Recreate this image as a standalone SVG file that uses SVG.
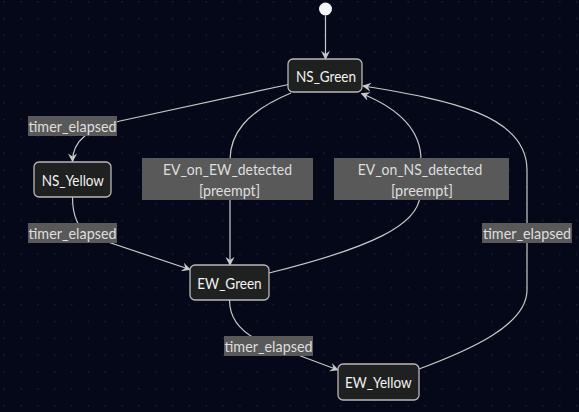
<svg xmlns="http://www.w3.org/2000/svg" width="579" height="412" viewBox="0 0 579 412">
<style>
.node rect{fill:#1f2020;stroke:#b8b8b8;stroke-width:1.3}
.node text{fill:#f2f2f2;font-family:Lato,"Liberation Sans",Arial,sans-serif;font-size:15.5px;text-anchor:middle;dominant-baseline:central}
.edges path{fill:none;stroke:#c8c8c8;stroke-width:1.2}
.lbl rect{fill:#595959}
.lbl text{fill:#dedede;font-family:Lato,"Liberation Sans",Arial,sans-serif;font-size:15px;text-anchor:middle;dominant-baseline:central}
</style>
<defs>
<pattern id="dots" patternUnits="userSpaceOnUse" x="0" y="0" width="16.83" height="16.83">
<circle cx="4.3" cy="1.7" r="0.8" fill="#222838"/>
</pattern>
<marker id="arr" viewBox="0 0 10 10" refX="9" refY="5" markerWidth="9" markerHeight="9" markerUnits="userSpaceOnUse" orient="auto">
<path d="M0,0 L10,5 L0,10 L3.5,5 z" fill="#c8c8c8"/>
</marker>
</defs>
<rect width="579" height="412" fill="#050818"/>
<rect width="579" height="412" fill="url(#dots)"/>

<g class="edges">
<path d="M325.5,15.5 L325.5,59" marker-end="url(#arr)"/>
<path d="M288.5,84.5 L120,121 C90,128 72.5,140 72.5,161.5" marker-end="url(#arr)"/>
<path d="M72.5,197 C72.5,212 76,228 90,236 L190,269.5" marker-end="url(#arr)"/>
<path d="M291,93 C245,112 230,135 230,160 L230,265" marker-end="url(#arr)"/>
<path d="M269,273 C370,248 419,225 420,195 L421,160 C421,125 390,105 361.5,93.5" marker-end="url(#arr)"/>
<path d="M229.5,300 C229.5,318 240,331 258,340 L338,370" marker-end="url(#arr)"/>
<path d="M419,369 C470,350 527,325 527,290 L527,170 C527,115 450,100 363,86" marker-end="url(#arr)"/>
</g>

<circle id="start" cx="325.5" cy="9" r="6.5" fill="#f4f4f4"/>

<g class="lbl">
<g id="lbl-ns-yellow"><rect x="28" y="116" width="89" height="20"/><text x="72.5" y="126" textLength="88" lengthAdjust="spacingAndGlyphs">timer_elapsed</text></g>
<g id="lbl-yellow-ew"><rect x="28" y="223" width="89" height="20"/><text x="72.5" y="233" textLength="88" lengthAdjust="spacingAndGlyphs">timer_elapsed</text></g>
<g id="lbl-ev-ew"><rect x="142" y="158" width="171" height="42"/><text x="227.5" y="169" textLength="129" lengthAdjust="spacingAndGlyphs">EV_on_EW_detected</text><text x="229.5" y="190" textLength="61" lengthAdjust="spacingAndGlyphs">[preempt]</text></g>
<g id="lbl-ev-ns"><rect x="334" y="158" width="175" height="42"/><text x="420" y="169" textLength="124.5" lengthAdjust="spacingAndGlyphs">EV_on_NS_detected</text><text x="422" y="190" textLength="62" lengthAdjust="spacingAndGlyphs">[preempt]</text></g>
<g id="lbl-ew-yellow"><rect x="224" y="336" width="89" height="20"/><text x="268.5" y="346" textLength="88" lengthAdjust="spacingAndGlyphs">timer_elapsed</text></g>
<g id="lbl-ewy-ns"><rect x="482" y="223" width="90" height="20"/><text x="527" y="233" textLength="88" lengthAdjust="spacingAndGlyphs">timer_elapsed</text></g>
</g>

<g id="NS_Green" class="node"><rect x="288" y="59" width="74" height="33" rx="5"/><text x="326" y="76" textLength="60" lengthAdjust="spacingAndGlyphs">NS_Green</text></g>
<g id="NS_Yellow" class="node"><rect x="34" y="162" width="77" height="35" rx="5"/><text x="72.8" y="179.5" textLength="62.3" lengthAdjust="spacingAndGlyphs">NS_Yellow</text></g>
<g id="EW_Green" class="node"><rect x="190" y="265" width="79" height="35" rx="5"/><text x="229.5" y="282.5" textLength="64.4" lengthAdjust="spacingAndGlyphs">EW_Green</text></g>
<g id="EW_Yellow" class="node"><rect x="338" y="364" width="81" height="36" rx="5"/><text x="378.3" y="382" textLength="66.7" lengthAdjust="spacingAndGlyphs">EW_Yellow</text></g>
</svg>
